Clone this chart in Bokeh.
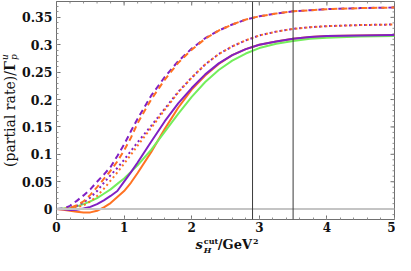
from bokeh.plotting import figure
from bokeh.models import FixedTicker, Span, Range1d, Div
from bokeh.layouts import row, column
from bokeh.embed import file_html
from bokeh.resources import INLINE

# ---------------- data ----------------
s_cut = [0, 0.1, 0.2, 0.3, 0.4, 0.5, 0.6, 0.7, 0.8, 0.9, 1.0, 1.1, 1.2, 1.4, 1.6,
         1.8, 2.0, 2.2, 2.4, 2.6, 2.8, 3.0, 3.25, 3.5, 3.75, 4.0, 4.5, 5.0]

dashed_purple = [0, 0.001, 0.006, 0.015, 0.025, 0.036, 0.050, 0.063, 0.077, 0.097, 0.118,
                 0.142, 0.165, 0.207, 0.241, 0.270, 0.293, 0.312, 0.326, 0.337, 0.346,
                 0.352, 0.357, 0.361, 0.363, 0.365, 0.367, 0.368]
dashed_orange = [0, 0.0, 0.002, 0.007, 0.014, 0.026, 0.040, 0.055, 0.070, 0.087, 0.107,
                 0.130, 0.157, 0.200, 0.236, 0.267, 0.291, 0.311, 0.326, 0.337, 0.346,
                 0.352, 0.357, 0.361, 0.363, 0.365, 0.367, 0.368]
dotted_purple = [0, 0.0, 0.002, 0.006, 0.012, 0.021, 0.033, 0.048, 0.062, 0.075, 0.090,
                 0.106, 0.122, 0.152, 0.183, 0.214, 0.240, 0.264, 0.283, 0.297, 0.308,
                 0.317, 0.324, 0.329, 0.332, 0.334, 0.336, 0.337]
dotted_orange = [0, 0.0, 0.001, 0.003, 0.007, 0.014, 0.024, 0.037, 0.052, 0.067, 0.083,
                 0.099, 0.116, 0.148, 0.181, 0.213, 0.240, 0.264, 0.283, 0.297, 0.308,
                 0.317, 0.324, 0.329, 0.332, 0.334, 0.336, 0.337]
solid_purple = [0, -0.0005, -0.0015, -0.001, 0.001, 0.004, 0.009, 0.016, 0.024, 0.033, 0.050,
                0.067, 0.085, 0.123, 0.160, 0.193, 0.221, 0.246, 0.266, 0.281, 0.292,
                0.300, 0.306, 0.311, 0.314, 0.316, 0.317, 0.318]
solid_orange = [0, -0.001, -0.003, -0.005, -0.006, -0.006, -0.003, 0.003, 0.011, 0.022, 0.033,
                0.048, 0.066, 0.104, 0.146, 0.185, 0.218, 0.244, 0.265, 0.281, 0.292,
                0.300, 0.306, 0.311, 0.314, 0.316, 0.317, 0.318]
solid_green = [0, 0.001, 0.002, 0.005, 0.009, 0.014, 0.020, 0.028, 0.036, 0.046, 0.056,
               0.068, 0.080, 0.108, 0.141, 0.174, 0.205, 0.232, 0.254, 0.271, 0.284,
               0.294, 0.302, 0.307, 0.311, 0.313, 0.315, 0.316]

cut_values = [2.9, 3.5]

x_ticks = [0, 1, 2, 3, 4, 5]
x_tick_labels = ["0", "1", "2", "3", "4", "5"]
x_minor = [round(i * 0.2, 1) for i in range(26)]
y_ticks = [0, 0.05, 0.1, 0.15, 0.2, 0.25, 0.3, 0.35]
y_tick_labels = ["0", "0.05", "0.1", "0.15", "0.2", "0.25", "0.3", "0.35"]
y_minor = [round(-0.01 + i * 0.01, 2) for i in range(39)]

PURPLE = "#8020c4"
ORANGE = "#ff7222"
GREEN = "#74ee5c"

# ---------------- layout ----------------
TOTAL_W, TOTAL_H = 395, 255
YLAB_W = 19
XLAB_H = 19
W = TOTAL_W - YLAB_W
H = TOTAL_H - XLAB_H
LB, RB, TB, BB = 35, 1, 1, 17
X0, X1 = 0, 5
Y0, Y1 = -0.019, 0.379
FRAME_W = W - LB - RB
FRAME_H = H - TB - BB

fig = figure(width=W, height=H, x_range=Range1d(X0, X1), y_range=Range1d(Y0, Y1),
             output_backend="svg", toolbar_location=None,
             min_border_left=LB, min_border_right=RB, min_border_top=TB, min_border_bottom=BB)
fig.grid.visible = False
fig.outline_line_color = "#707070"
fig.outline_line_width = 1

FONT = "DejaVu Serif"
AX = "#707070"

for ax in (fig.xaxis[0], fig.yaxis[0]):
    ax.major_tick_in = 4
    ax.major_tick_out = 0
    ax.minor_tick_in = 2
    ax.minor_tick_out = 0
    ax.axis_line_color = AX
    ax.major_tick_line_color = AX
    ax.minor_tick_line_color = "#909090"
    ax.major_label_text_font = FONT
    ax.major_label_text_font_style = "bold"
    ax.major_label_text_color = "#111111"

fig.xaxis.major_label_text_font_size = "12px"
fig.yaxis.major_label_text_font_size = "12.5px"
fig.xaxis.ticker = FixedTicker(ticks=x_ticks, minor_ticks=x_minor)
fig.yaxis.ticker = FixedTicker(ticks=y_ticks, minor_ticks=y_minor)
fig.xaxis.major_label_overrides = dict(zip(x_ticks, x_tick_labels))
fig.yaxis.major_label_overrides = dict(zip(y_ticks, y_tick_labels))
fig.xaxis.major_label_standoff = 2
fig.yaxis.major_label_standoff = 4

# mirrored ticks on the top and right edges of the frame
dx = (X1 - X0) / FRAME_W
dy = (Y1 - Y0) / FRAME_H
fig.segment(x0=x_ticks, y0=[Y1] * len(x_ticks), x1=x_ticks, y1=[Y1 - 4 * dy] * len(x_ticks),
            line_color=AX, line_width=1)
fig.segment(x0=x_minor, y0=[Y1] * len(x_minor), x1=x_minor, y1=[Y1 - 2 * dy] * len(x_minor),
            line_color="#909090", line_width=1)
fig.segment(x0=[X1] * len(y_ticks), y0=y_ticks, x1=[X1 - 4 * dx] * len(y_ticks), y1=y_ticks,
            line_color=AX, line_width=1)
fig.segment(x0=[X1] * len(y_minor), y0=y_minor, x1=[X1 - 2 * dx] * len(y_minor), y1=y_minor,
            line_color="#909090", line_width=1)

# reference lines
fig.add_layout(Span(location=0, dimension="width", line_color="#c4c4c4", line_width=2))
for c in cut_values:
    fig.add_layout(Span(location=c, dimension="height", line_color="#3a3a3a", line_width=1))

# curves
fig.line(s_cut, solid_orange, line_color=ORANGE, line_width=2)
fig.line(s_cut, solid_green, line_color=GREEN, line_width=2)
fig.line(s_cut, solid_purple, line_color=PURPLE, line_width=2)
fig.line(s_cut, dotted_purple, line_color=PURPLE, line_width=2, line_dash="2 3")
fig.line(s_cut, dotted_orange, line_color=ORANGE, line_width=2, line_dash="2 3", line_dash_offset=2)
fig.line(s_cut, dashed_purple, line_color=PURPLE, line_width=2, line_dash="6 4")
fig.line(s_cut, dashed_orange, line_color=ORANGE, line_width=2, line_dash="6 4", line_dash_offset=5)

# ---------------- axis titles as rich text ----------------
def stack(sup, sub, width, sup_size, sub_size, sup_base, sub_base,
          sup_style="normal", sub_style="italic"):
    # sup_base / sub_base: baseline shift (px, + = down) of the two small texts
    sup_top = round(sup_base - 0.846 * sup_size, 2)
    sub_top = round(sub_base - 0.846 * sub_size, 2)
    return (
        f'<span style="display:inline-block;position:relative;width:{width}px;height:0;'
        f'margin-left:1px;">'
        f'<span style="position:absolute;left:0;top:{sup_top}px;font-size:{sup_size}px;'
        f'line-height:{sup_size}px;font-style:{sup_style};">{sup}</span>'
        f'<span style="position:absolute;left:0;top:{sub_top}px;font-size:{sub_size}px;'
        f'line-height:{sub_size}px;font-style:{sub_style};">{sub}</span></span>'
    )

x_title = (
    f'<div style="position:relative;width:{W}px;height:{XLAB_H}px;">'
    f'<div style="position:absolute;left:176.5px;top:0.9px;white-space:nowrap;'
    f'font-family:\'{FONT}\';font-weight:bold;font-size:13px;line-height:15px;color:#111;">'
    f'<i>s</i>{stack("cut", "H", 14, 8, 8, -5.5, 3.8)}/GeV'
    f'<span style="position:relative;top:-5px;font-size:8px;margin-left:1px;">2</span>'
    f'</div></div>'
)
y_title = (
    f'<div style="position:relative;width:{YLAB_W}px;height:{TOTAL_H}px;">'
    f'<div style="position:absolute;left:1.6px;top:167px;transform-origin:0 0;'
    f'transform:rotate(-90deg);white-space:nowrap;font-family:\'{FONT}\';'
    f'font-size:14px;line-height:16px;color:#111;">'
    f'(partial rate)/<b>Γ</b>{stack("u", "p", 7, 9, 9, -6, 2.5, "italic", "italic")}'
    f'</div></div>'
)

xdiv = Div(text=x_title, width=W, height=XLAB_H, margin=0, styles={"overflow": "visible"})
ydiv = Div(text=y_title, width=YLAB_W, height=TOTAL_H, margin=0, styles={"overflow": "visible"})

p = row(ydiv, column(fig, xdiv, spacing=0), spacing=0)

open("out.html", "w").write(file_html(p, INLINE))
